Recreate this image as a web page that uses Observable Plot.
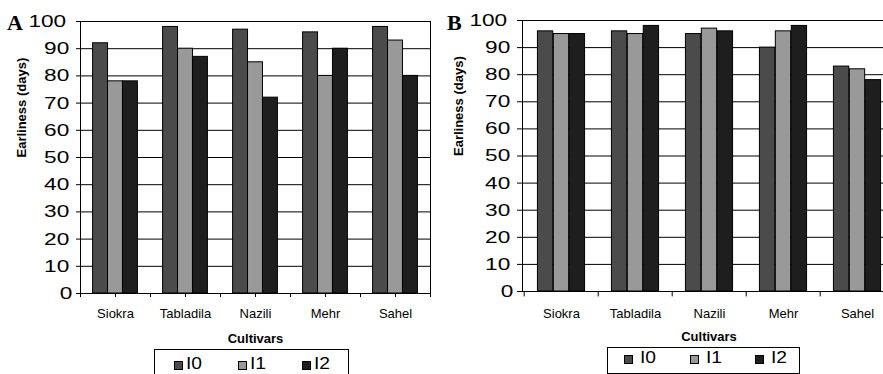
<!DOCTYPE html>
<html>
<head>
<meta charset="utf-8">
<script src="https://cdn.jsdelivr.net/npm/d3@7"></script>
<script src="https://cdn.jsdelivr.net/npm/@observablehq/plot@0.6"></script>
<style>
  html, body { margin: 0; padding: 0; background: #fff; }
  #wrap { position: relative; width: 883px; height: 374px; overflow: hidden; background: #fff; font-family: "Liberation Sans", Arial, sans-serif; }
  .panel { position: absolute; top: 0; height: 374px; overflow: hidden; }
  .panel svg { max-width: none !important; }
  .letter { position: absolute; font-family: "Liberation Serif", "DejaVu Serif", serif; font-weight: bold; font-size: 22px; line-height: 22px; }
  .legend { position: absolute; border: 1px solid #000; box-sizing: border-box; background: #fff; }
  .legend .sw { position: absolute; width: 9px; height: 9px; border: 1px solid #000; box-sizing: border-box; }
  .legend .lb { position: absolute; font-size: 16px; line-height: 16px; transform: scaleX(1.2); transform-origin: left center; }
</style>
</head>
<body>
<div id="wrap"></div>
<script>
// ---- data ----
const cultivars = ["Siokra", "Tabladila", "Nazili", "Mehr", "Sahel"];
const seriesNames = ["I0", "I1", "I2"];
const yTicks = [0, 10, 20, 30, 40, 50, 60, 70, 80, 90, 100];
// Panel A
const panelA_I0 = [92, 98, 97, 96, 98];
const panelA_I1 = [78, 90, 85, 80, 93];
const panelA_I2 = [78, 87, 72, 90, 80];
// Panel B
const panelB_I0 = [96, 96, 95, 90, 83];
const panelB_I1 = [95, 95, 97, 96, 82];
const panelB_I2 = [95, 98, 96, 98, 78];

const colors = ["#4b4b4b", "#999999", "#1e1e1e"];

const wrap = document.getElementById("wrap");

function makePanel(cfg) {
  const div = document.createElement("div");
  div.className = "panel";
  div.style.left = cfg.left + "px";
  div.style.width = cfg.clipWidth + "px";
  wrap.appendChild(div);

  const bw = (cfg.width - cfg.ml - cfg.mr) / cultivars.length;
  const outer = 0.18 * bw;
  const barW = (bw - 2 * outer) / 3;
  const seriesVals = [cfg.s0, cfg.s1, cfg.s2];
  const barMarks = seriesVals.map((vals, k) =>
    Plot.barY(cultivars.map((c, i) => ({cultivar: c, value: vals[i]})), {
      x: "cultivar", y: "value",
      fill: colors[k], stroke: "#000", strokeWidth: 1,
      insetLeft: outer + k * barW,
      insetRight: bw - outer - (k + 1) * barW
    })
  );

  const svg = Plot.plot({
    width: cfg.width, height: 374,
    marginLeft: cfg.ml, marginRight: cfg.mr, marginTop: cfg.mt, marginBottom: cfg.mb,
    style: {fontFamily: "'Liberation Sans', Arial, sans-serif", background: "transparent", color: "#000", overflow: "visible", maxWidth: "none"},
    x: {domain: cultivars, padding: 0, axis: null},
    y: {domain: [0, 100], axis: null},
    marks: [
      Plot.ruleY(yTicks, {stroke: "#000", strokeWidth: 1}),
      ...barMarks,
      Plot.frame({stroke: "#000"}),
      Plot.axisY({ticks: yTicks, tickSize: cfg.yTickSize, tickPadding: 1, fontSize: 17, label: null, stroke: "#000"}),
      Plot.axisX({tickSize: cfg.xTickSize, tickPadding: cfg.xTickPad, fontSize: 13, label: null, stroke: "#000"}),
      Plot.ruleX(cultivars, {x: d => d, y1: 0, y2: cfg.bTick, dx: -bw / 2, stroke: "#000"}),
      Plot.ruleX([cultivars[cultivars.length - 1]], {x: d => d, y1: 0, y2: cfg.bTick, dx: bw / 2, stroke: "#000"}),
      Plot.text(["Earliness (days)"], {text: d => d, frameAnchor: "left", rotate: -90, dx: cfg.yLabelDx, fontWeight: "bold", fontSize: 13, fill: "#000"}),
      Plot.text(["Cultivars"], {text: d => d, frameAnchor: "bottom", lineAnchor: "middle", dy: cfg.cultDy, fontWeight: "bold", fontSize: 13, fill: "#000"})
    ]
  });
  div.appendChild(svg);
  svg.querySelectorAll('g[aria-label="y-axis tick label"] text').forEach(t => {
    const w = t.getComputedTextLength();
    const x0 = parseFloat(t.getAttribute("x") || 0);
    t.setAttribute("textLength", w * 1.33);
    t.setAttribute("lengthAdjust", "spacingAndGlyphs");
    t.setAttribute("x", x0 - 0.33 * w);
  });

  const letter = document.createElement("div");
  letter.className = "letter";
  letter.textContent = cfg.letter;
  letter.style.left = cfg.letterX + "px";
  letter.style.top = "12px";
  wrap.appendChild(letter);

  const lg = document.createElement("div");
  lg.className = "legend";
  lg.style.left = cfg.lgX + "px";
  lg.style.top = cfg.lgY + "px";
  lg.style.width = cfg.lgW + "px";
  lg.style.height = cfg.lgH + "px";
  seriesNames.forEach((s, k) => {
    const sw = document.createElement("div");
    sw.className = "sw";
    sw.style.background = colors[k];
    sw.style.left = (cfg.lgItem0 + k * cfg.lgStep) + "px";
    sw.style.top = cfg.swTop + "px";
    lg.appendChild(sw);
    const lb = document.createElement("div");
    lb.className = "lb";
    lb.textContent = s;
    lb.style.left = (cfg.lgItem0 + k * cfg.lgStep + cfg.lbGap) + "px";
    lb.style.top = (cfg.swTop - 5) + "px";
    lg.appendChild(lb);
  });
  wrap.appendChild(lg);
}

makePanel({
  letter: "A", letterX: 7, left: 0, clipWidth: 440, width: 440,
  ml: 80, mr: 10, mt: 21, mb: 81,
  s0: panelA_I0, s1: panelA_I1, s2: panelA_I2,
  yTickSize: 4, xTickSize: 4, xTickPad: 11, bTick: -1.5, yLabelDx: -59, cultDy: 45,
  lgX: 154, lgY: 349, lgW: 195, lgH: 40, lgItem0: 19, lgStep: 64, lbGap: 12, swTop: 11
});
makePanel({
  letter: "B", letterX: 447, left: 440, clipWidth: 443, width: 455,
  ml: 82, mr: 0, mt: 20, mb: 83,
  s0: panelB_I0, s1: panelB_I1, s2: panelB_I2,
  yTickSize: 5, xTickSize: 0, xTickPad: 17, bTick: -2, yLabelDx: -64, cultDy: 45,
  lgX: 607, lgY: 347, lgW: 193, lgH: 27, lgItem0: 16, lgStep: 65.5, lbGap: 16, swTop: 7
});
</script>
</body>
</html>
